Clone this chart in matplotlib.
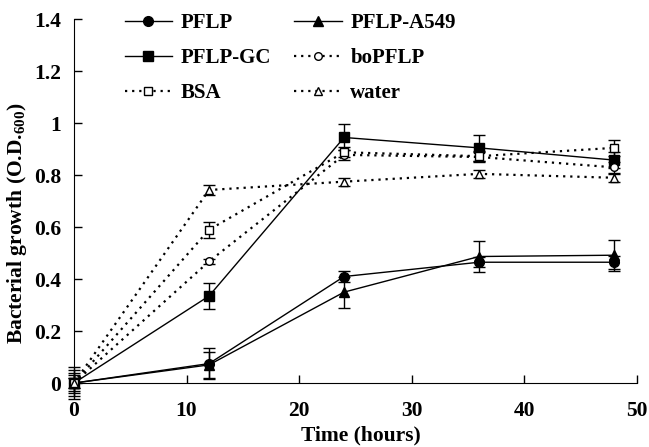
import matplotlib
matplotlib.use("Agg")
import matplotlib.pyplot as plt
from matplotlib.lines import Line2D

plt.rcParams['font.family'] = ['Liberation Serif', 'DejaVu Serif']
plt.rcParams['font.weight'] = 'bold'
plt.rcParams['mathtext.fontset'] = 'custom'
plt.rcParams['mathtext.rm'] = 'Liberation Serif:bold'
plt.rcParams['mathtext.bf'] = 'Liberation Serif:bold'

time = [0, 12, 24, 36, 48]
names = ["PFLP", "PFLP-A549", "PFLP-GC", "boPFLP", "BSA", "water"]
values = {
    "PFLP":      [0.0, 0.075, 0.41, 0.465, 0.465],
    "PFLP-A549": [0.0, 0.07, 0.35, 0.487, 0.492],
    "PFLP-GC":   [0.0, 0.335, 0.945, 0.905, 0.858],
    "boPFLP":    [0.0, 0.468, 0.878, 0.87, 0.83],
    "BSA":       [0.0, 0.59, 0.888, 0.873, 0.905],
    "water":     [0.0, 0.743, 0.775, 0.805, 0.79],
}
errors = {
    "PFLP":      [0.02, 0.06, 0.02, 0.02, 0.025],
    "PFLP-A549": [0.03, 0.05, 0.06, 0.06, 0.06],
    "PFLP-GC":   [0.02, 0.05, 0.05, 0.05, 0.03],
    "boPFLP":    [0.04, 0.01, 0.02, 0.02, 0.02],
    "BSA":       [0.06, 0.03, 0.02, 0.02, 0.03],
    "water":     [0.05, 0.02, 0.015, 0.015, 0.015],
}
DOT = (0, (1, 2.2))
styles = {
    "PFLP":      dict(marker='o', ls='-', mfc='black', ms=7, lw=1.0),
    "PFLP-A549": dict(marker='^', ls='-', mfc='black', ms=7, lw=1.0),
    "PFLP-GC":   dict(marker='s', ls='-', mfc='black', ms=7.5, lw=1.0),
    "boPFLP":    dict(marker='o', ls=DOT, mfc='white', ms=5.5, lw=1.6),
    "BSA":       dict(marker='s', ls=DOT, mfc='white', ms=5.5, lw=1.6),
    "water":     dict(marker='^', ls=DOT, mfc='white', ms=6, lw=1.6),
}

fig = plt.figure(figsize=(6.49, 4.47), dpi=100)
ax = fig.add_axes([0.114, 0.143, 0.867, 0.814])

for n in names:
    st = styles[n]
    eb = ax.errorbar(time, values[n], yerr=errors[n], color='black', mec='black',
                     capsize=4, elinewidth=1.0, capthick=1.0,
                     marker=st['marker'], ls=st['ls'], mfc=st['mfc'], ms=st['ms'],
                     lw=st['lw'], zorder=3)
    eb[0].set_clip_on(False)
    for a in list(eb[1]) + list(eb[2]):
        a.set_clip_on(False)

ax.set_xlim(0, 50)
ax.set_ylim(0, 1.4)
ax.set_xticks([0, 10, 20, 30, 40, 50])
ax.set_yticks([0, 0.2, 0.4, 0.6, 0.8, 1.0, 1.2, 1.4])
ax.set_yticklabels(["0", "0.2", "0.4", "0.6", "0.8", "1", "1.2", "1.4"])
ax.spines['top'].set_visible(False)
ax.spines['right'].set_visible(False)
ax.tick_params(direction='in', length=6, labelsize=15.5, width=1)
for lab in ax.get_xticklabels() + ax.get_yticklabels():
    lab.set_fontweight('bold')
ax.tick_params(axis='x', pad=13)
ax.tick_params(axis='y', pad=9)

ax.set_xlabel("Time (hours)", fontsize=15.5, fontweight='bold', labelpad=3)
ax.xaxis.label.set_x(0.51)
ax.set_ylabel(r"Bacterial growth (O.D.$_{600}$)", fontsize=15.5, fontweight='bold', labelpad=4)
ax.yaxis.label.set_y(0.44)

# legend: row-major order in reference -> column-major order for matplotlib
order = ["PFLP", "PFLP-GC", "BSA", "PFLP-A549", "boPFLP", "water"]
handles = []
for n in order:
    st = styles[n]
    handles.append(Line2D([], [], color='black', mec='black', marker=st['marker'],
                          ls=st['ls'], mfc=st['mfc'], ms=st['ms'], lw=st['lw']))
fig.legend(handles, order, ncol=2, loc='upper left', bbox_to_anchor=(0.163, 1.013),
           frameon=False, handlelength=2.3, columnspacing=1.1,
           labelspacing=0.72, handletextpad=0.4,
           prop={'family': 'Liberation Serif', 'weight': 'bold', 'size': 15})

fig.savefig("out.png", dpi=100)
